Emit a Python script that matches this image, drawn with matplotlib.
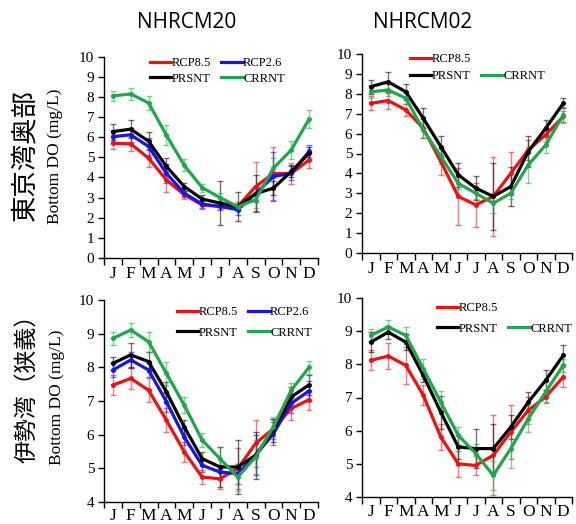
import matplotlib
matplotlib.use("Agg")
import matplotlib.pyplot as plt
from matplotlib.lines import Line2D
import numpy as np

months = ["J", "F", "M", "A", "M", "J", "J", "A", "S", "O", "N", "D"]
titles = ["NHRCM20", "NHRCM02"]
row_labels = ["東京湾奥部", "伊勢湾（狭義）"]
ylabel = "Bottom DO (mg/L)"

# Tokyo Bay inner part, NHRCM20
tk20_rcp85 = [5.7, 5.67, 4.96, 3.88, 3.14, 2.64, 2.56, 2.56, 3.55, 4.2, 4.2, 4.87]
tk20_rcp26 = [6.03, 6.12, 5.54, 4.2, 3.22, 2.68, 2.56, 2.4, 3.2, 4.05, 4.2, 5.3]
tk20_prsnt = [6.28, 6.4, 5.8, 4.55, 3.55, 2.93, 2.73, 2.56, 3.2, 3.47, 4.3, 5.2]
tk20_crrnt = [8.05, 8.15, 7.7, 6.1, 4.6, 3.5, 3.0, 2.55, 2.9, 4.46, 5.37, 6.9]
tk20_rcp85_err = [0.3, 0.35, 0.45, 0.6, 0.2, 0.2, 0.15, 0.2, 1.2, 1.3, 0.5, 0.4]
tk20_rcp26_err = [0.3, 0.35, 0.4, 0.45, 0.2, 0.2, 0.2, 0.25, 0.4, 1.2, 0.35, 0.3]
tk20_prsnt_err = [0.4, 0.45, 0.45, 0.4, 0.2, 0.2, 1.1, 0.7, 0.9, 0.35, 0.3, 0.3]
tk20_crrnt_err = [0.25, 0.3, 0.35, 0.5, 0.3, 0.2, 0.25, 0.2, 0.4, 0.5, 0.45, 0.45]

# Tokyo Bay inner part, NHRCM02
tk02_rcp85 = [7.52, 7.66, 7.19, 6.27, 4.6, 2.84, 2.42, 2.84, 4.0, 5.18, 5.94, 6.86]
tk02_prsnt = [8.36, 8.6, 8.1, 6.77, 5.35, 3.93, 3.26, 2.84, 3.34, 5.1, 6.27, 7.52]
tk02_crrnt = [8.1, 8.19, 7.78, 6.19, 4.85, 3.5, 3.0, 2.5, 3.0, 4.43, 5.43, 6.94]
tk02_rcp85_err = [0.35, 0.4, 0.3, 0.5, 0.7, 1.45, 1.1, 2.0, 1.1, 0.5, 0.35, 0.3]
tk02_prsnt_err = [0.35, 0.5, 0.4, 0.5, 0.55, 0.6, 0.6, 1.7, 1.0, 0.8, 0.4, 0.25]
tk02_crrnt_err = [0.3, 0.3, 0.3, 0.4, 0.4, 0.3, 0.3, 0.5, 0.3, 0.9, 0.4, 0.4]

# Ise Bay, NHRCM20
is20_rcp85 = [7.47, 7.67, 7.32, 6.43, 5.49, 4.74, 4.69, 4.99, 5.74, 6.18, 6.78, 7.04]
is20_rcp26 = [7.92, 8.22, 7.92, 6.98, 5.93, 5.09, 4.89, 4.84, 5.39, 6.03, 6.93, 7.3]
is20_prsnt = [8.12, 8.37, 8.17, 7.27, 6.23, 5.29, 5.04, 5.04, 5.39, 6.13, 7.12, 7.48]
is20_crrnt = [8.86, 9.11, 8.76, 7.82, 6.88, 5.84, 5.29, 4.74, 5.34, 6.23, 7.32, 8.0]
is20_rcp85_err = [0.3, 0.3, 0.35, 0.35, 0.3, 0.2, 0.3, 0.6, 0.7, 0.3, 0.35, 0.3]
is20_rcp26_err = [0.2, 0.25, 0.2, 0.3, 0.25, 0.2, 0.2, 0.3, 0.6, 0.35, 0.3, 0.3]
is20_prsnt_err = [0.2, 0.35, 0.3, 0.3, 0.2, 0.2, 0.6, 0.8, 0.7, 0.35, 0.3, 0.3]
is20_crrnt_err = [0.2, 0.2, 0.3, 0.35, 0.25, 0.2, 0.35, 0.4, 0.5, 0.3, 0.2, 0.2]

# Ise Bay, NHRCM02
is02_rcp85 = [8.12, 8.25, 7.97, 7.07, 5.81, 5.0, 4.95, 5.26, 5.96, 6.61, 7.02, 7.62]
is02_prsnt = [8.67, 8.97, 8.67, 7.67, 6.56, 5.51, 5.46, 5.46, 6.11, 6.86, 7.52, 8.27]
is02_crrnt = [8.87, 9.13, 8.87, 7.87, 6.86, 5.86, 5.31, 4.65, 5.46, 6.36, 7.17, 7.97]
is02_rcp85_err = [0.3, 0.4, 0.55, 0.3, 0.4, 0.4, 0.3, 1.2, 0.8, 0.4, 0.2, 0.3]
is02_prsnt_err = [0.3, 0.2, 0.25, 0.2, 0.5, 0.35, 0.6, 0.75, 0.35, 0.3, 0.3, 0.3]
is02_crrnt_err = [0.2, 0.2, 0.25, 0.3, 0.35, 0.25, 0.3, 0.45, 0.6, 0.4, 0.3, 0.2]

COL = {"RCP8.5": "#f01010", "RCP2.6": "#1515e8", "PRSNT": "#000000", "CRRNT": "#1fa84a"}

W, H = 576, 524
fig = plt.figure(figsize=(W / 100, H / 100), dpi=100)
fig.patch.set_facecolor("white")

SERIF = "Liberation Serif"


def px_axes(l, r, top, bot):
    return fig.add_axes([l / W, 1 - bot / H, (r - l) / W, (bot - top) / H])


def draw_panel(ax, series, ymin, ymax, xpad, ticklen):
    x = np.arange(12)
    for name, vals, err in series:
        c = COL[name]
        ax.errorbar(x, vals, yerr=err, fmt="none", ecolor=c, elinewidth=1.0,
                    capsize=2, capthick=1.0, alpha=0.55, zorder=2)
        ax.plot(x, vals, color=c, lw=2.3, marker="o", ms=2.5, zorder=3,
                solid_joinstyle="miter")
    ax.set_xlim(-0.5, 11.5)
    ax.set_ylim(ymin, ymax)
    ax.set_xticks(np.arange(-0.5, 12, 1))
    ax.set_xticklabels([])
    ax.set_xticks(x, minor=True)
    ax.set_xticklabels(months, minor=True, fontfamily=SERIF, fontsize=12.5)
    ax.tick_params(axis="x", which="major", direction="out", length=ticklen, width=1)
    ax.tick_params(axis="x", which="minor", length=0, pad=xpad)
    ax.set_yticks(np.arange(ymin, ymax + 1, 1))
    ax.set_yticklabels([str(v) for v in range(ymin, ymax + 1)],
                       fontfamily=SERIF, fontsize=11)
    ax.tick_params(axis="y", direction="out", length=4, width=1, pad=3)
    for s in ("top", "right"):
        ax.spines[s].set_visible(False)
    for s in ("left", "bottom"):
        ax.spines[s].set_linewidth(1.0)
    ax.set_facecolor("none")


def add_legend(ax, names, x, y, labelspacing, colspacing):
    handles, labels = [], []
    for n in names:
        if n is None:
            handles.append(Line2D([], [], color="none"))
            labels.append("")
        else:
            handles.append(Line2D([], [], color=COL[n], lw=2.3))
            labels.append(n)
    ax.legend(handles, labels, ncol=2, frameon=False, loc="upper left",
              bbox_to_anchor=(x / W, 1 - y / H), bbox_transform=fig.transFigure,
              prop={"family": SERIF, "size": 9}, handlelength=1.7,
              handletextpad=0.05, borderpad=0, borderaxespad=0,
              labelspacing=labelspacing, columnspacing=colspacing)


ax1 = px_axes(104, 318, 56.7, 258)
draw_panel(ax1, [("RCP8.5", tk20_rcp85, tk20_rcp85_err),
                 ("RCP2.6", tk20_rcp26, tk20_rcp26_err),
                 ("PRSNT", tk20_prsnt, tk20_prsnt_err),
                 ("CRRNT", tk20_crrnt, tk20_crrnt_err)], 0, 10, 6, 5)
add_legend(ax1, ["RCP8.5", "PRSNT", "RCP2.6", "CRRNT"], 150, 57, 0.3, 0.8)

ax2 = px_axes(362, 572, 54, 253)
draw_panel(ax2, [("RCP8.5", tk02_rcp85, tk02_rcp85_err),
                 ("PRSNT", tk02_prsnt, tk02_prsnt_err),
                 ("CRRNT", tk02_crrnt, tk02_crrnt_err)], 0, 10, 6, 5)
add_legend(ax2, ["RCP8.5", "PRSNT", None, "CRRNT"], 410, 53, 0.4, 0.8)

ax3 = px_axes(104, 318, 300, 502)
draw_panel(ax3, [("RCP8.5", is20_rcp85, is20_rcp85_err),
                 ("RCP2.6", is20_rcp26, is20_rcp26_err),
                 ("PRSNT", is20_prsnt, is20_prsnt_err),
                 ("CRRNT", is20_crrnt, is20_crrnt_err)], 4, 10, 4.5, 4)
add_legend(ax3, ["RCP8.5", "PRSNT", "RCP2.6", "CRRNT"], 177, 306, 0.7, 0.8)

ax4 = px_axes(362, 572, 298, 497)
draw_panel(ax4, [("RCP8.5", is02_rcp85, is02_rcp85_err),
                 ("PRSNT", is02_prsnt, is02_prsnt_err),
                 ("CRRNT", is02_crrnt, is02_crrnt_err)], 4, 10, 5, 5)
add_legend(ax4, ["RCP8.5", "PRSNT", None, "CRRNT"], 437, 302, 0.7, 0.8)

# Column titles
fig.text(187 / W, 1 - 22 / H, titles[0], ha="center", va="center",
         fontfamily="Open Sans", fontsize=15)
fig.text(423 / W, 1 - 22 / H, titles[1], ha="center", va="center",
         fontfamily="Open Sans", fontsize=15)

# Row labels
fig.text(25 / W, 1 - 155 / H, row_labels[0], rotation=90, ha="center", va="center",
         fontfamily=["Noto Sans CJK JP", "DejaVu Sans"], fontsize=19)
fig.text(27 / W, 1 - 383 / H, row_labels[1], rotation=90, ha="center", va="center",
         fontfamily=["Noto Sans CJK JP", "DejaVu Sans"], fontsize=16.5)
fig.text(55 / W, 1 - 156 / H, ylabel, rotation=90, ha="center", va="center",
         fontfamily=SERIF, fontsize=12.5)
fig.text(57 / W, 1 - 397 / H, ylabel, rotation=90, ha="center", va="center",
         fontfamily=SERIF, fontsize=12.5)

fig.savefig("out.png", dpi=100)
